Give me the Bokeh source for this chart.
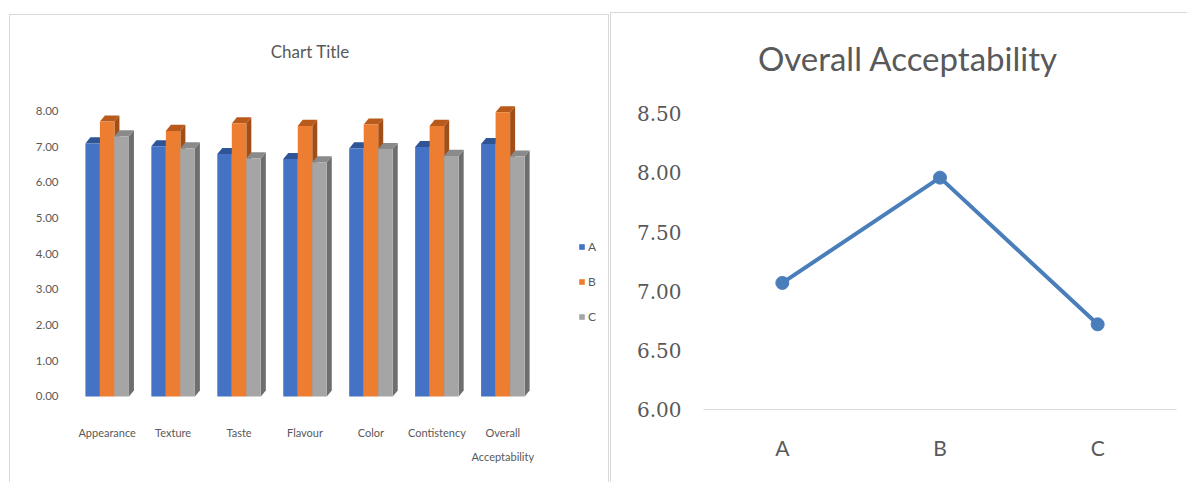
from bokeh.plotting import figure
from bokeh.models import (Range1d, FixedTicker, Legend, LegendItem, Label,
                          FactorRange, NumeralTickFormatter)
from bokeh.layouts import row
from bokeh.embed import file_html
from bokeh.resources import INLINE

# ---------------- data ----------------
categories = ["Appearance", "Texture", "Taste", "Flavour", "Color",
              "Contistency", "Overall\nAcceptability"]
series_names = ["A", "B", "C"]
values_A = [7.09, 7.01, 6.79, 6.65, 6.95, 6.99, 7.07]
values_B = [7.70, 7.44, 7.65, 7.58, 7.62, 7.58, 7.96]
values_C = [7.29, 6.95, 6.67, 6.56, 6.93, 6.74, 6.72]
left_ticks = [0, 1, 2, 3, 4, 5, 6, 7, 8]

overall_samples = ["A", "B", "C"]
overall_values = [7.07, 7.96, 6.72]
right_ticks = [6.0, 6.5, 7.0, 7.5, 8.0, 8.5]

# ---------------- styles ----------------
SANS = "Lato"
GRAY_TXT = "#595959"
BORDER = "1px solid #d9d9d9"
front_cols = ["#4472C4", "#ED7D31", "#A5A5A5"]
top_cols = ["#2F5597", "#B85A1B", "#8A8A8A"]
side_cols = ["#2A4D8A", "#A14E17", "#6E6E6E"]

# ---------------- left: 3D-look clustered columns ----------------
left = figure(frame_width=541, frame_height=383, title=None,
              x_range=Range1d(-0.647, 7.587), y_range=Range1d(-0.365, 10.393),
              output_backend="svg", toolbar_location=None,
              min_border_left=54, min_border_right=3,
              min_border_top=10, min_border_bottom=74,
              styles={"border-top": BORDER, "border-left": BORDER,
                      "border-right": BORDER},
              margin=(14, 0, 0, 9))
left.xgrid.visible = False
left.ygrid.visible = False
left.outline_line_color = None

bw = 0.22
offsets = [-0.22, 0.0, 0.22]
dx = 0.076
dy = 0.17
renderers = []
for s, vals in enumerate([values_A, values_B, values_C]):
    xs_c = [i + offsets[s] for i in range(len(categories))]
    side_xs = [[x + bw / 2, x + bw / 2 + dx, x + bw / 2 + dx, x + bw / 2] for x in xs_c]
    side_ys = [[0, dy, v + dy, v] for v in vals]
    left.patches(side_xs, side_ys, fill_color=side_cols[s], line_color=None)
    top_xs = [[x - bw / 2, x - bw / 2 + dx, x + bw / 2 + dx, x + bw / 2] for x in xs_c]
    top_ys = [[v, v + dy, v + dy, v] for v in vals]
    left.patches(top_xs, top_ys, fill_color=top_cols[s], line_color=None)
    r = left.vbar(x=xs_c, top=vals, bottom=0, width=bw,
                  fill_color=front_cols[s], line_color=None)
    renderers.append(r)

left.xaxis.ticker = FixedTicker(ticks=list(range(len(categories))))
left.xaxis.major_label_overrides = {i: c for i, c in enumerate(categories)}
left.xaxis.axis_line_color = None
left.xaxis.major_tick_line_color = None
left.xaxis.minor_tick_line_color = None
left.xaxis.major_tick_out = 0
left.xaxis.major_tick_in = 0
left.xaxis.major_label_standoff = 16
left.xaxis.major_label_text_font = SANS
left.xaxis.major_label_text_font_size = "11px"
left.xaxis.major_label_text_line_height = 1.85
left.xaxis.major_label_text_color = GRAY_TXT

left.yaxis.ticker = FixedTicker(ticks=left_ticks)
left.yaxis.formatter = NumeralTickFormatter(format="0.00")
left.yaxis.axis_line_color = None
left.yaxis.major_tick_line_color = None
left.yaxis.minor_tick_line_color = None
left.yaxis.major_tick_out = 0
left.yaxis.major_tick_in = 0
left.yaxis.major_label_standoff = 6
left.yaxis.major_label_text_font = SANS
left.yaxis.major_label_text_font_size = "11.5px"
left.yaxis.major_label_text_color = GRAY_TXT

left.add_layout(Label(x=3.08, y=9.66, text="Chart Title", text_align="center",
                      text_baseline="middle", text_font=SANS,
                      text_font_size="17px", text_color=GRAY_TXT))

legend = Legend(items=[LegendItem(label=n, renderers=[r]) for n, r in zip(series_names, renderers)],
                location=(514, 85), orientation="vertical",
                glyph_width=7, glyph_height=7, label_height=15, spacing=20,
                padding=0, margin=0, border_line_color=None,
                background_fill_alpha=0, label_standoff=3,
                label_text_font=SANS, label_text_font_size="12px",
                label_text_color=GRAY_TXT)
left.add_layout(legend)

# ---------------- right: line chart ----------------
right = figure(frame_width=472, frame_height=385, title=None,
               x_range=FactorRange(*overall_samples, range_padding=0),
               y_range=Range1d(6, 9.263),
               output_backend="svg", toolbar_location=None,
               min_border_left=92, min_border_right=12,
               min_border_top=10, min_border_bottom=74,
               styles={"border-top": BORDER, "border-left": BORDER},
               margin=(12, 0, 0, 1))
right.xgrid.visible = False
right.ygrid.visible = False
right.outline_line_color = None

right.line(x=overall_samples, y=overall_values, line_width=4, line_color="#4a7ebb")
right.scatter(x=overall_samples, y=overall_values, size=13,
              fill_color="#4a7ebb", line_color="#4a7ebb")

right.xaxis.axis_line_color = "#d9d9d9"
right.xaxis.axis_line_width = 1
right.xaxis.major_tick_line_color = None
right.xaxis.minor_tick_line_color = None
right.xaxis.major_tick_out = 0
right.xaxis.major_tick_in = 0
right.xaxis.major_label_standoff = 25
right.xaxis.major_label_text_font = SANS
right.xaxis.major_label_text_font_size = "21px"
right.xaxis.major_label_text_color = GRAY_TXT

right.yaxis.ticker = FixedTicker(ticks=right_ticks)
right.yaxis.formatter = NumeralTickFormatter(format="0.00")
right.yaxis.axis_line_color = None
right.yaxis.major_tick_line_color = None
right.yaxis.minor_tick_line_color = None
right.yaxis.major_tick_out = 0
right.yaxis.major_tick_in = 0
right.yaxis.major_label_standoff = 22
right.yaxis.major_label_text_font = "DejaVu Serif"
right.yaxis.major_label_text_font_size = "20px"
right.yaxis.major_label_text_color = GRAY_TXT

right.add_layout(Label(x=1.297, y=8.97, text="Overall Acceptability", text_align="center",
                       text_baseline="middle", text_font=SANS,
                       text_font_size="33px", text_color=GRAY_TXT))

layout = row(left, right)
open("out.html", "w").write(file_html(layout, INLINE))
